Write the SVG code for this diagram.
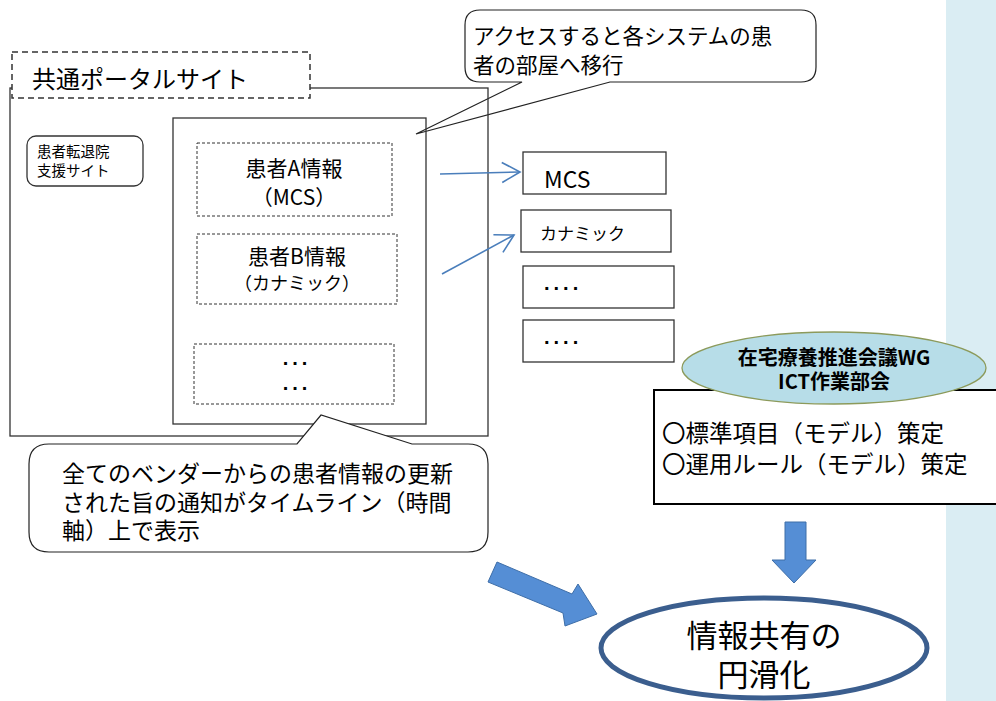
<svg xmlns="http://www.w3.org/2000/svg" width="996" height="701" viewBox="0 0 996 701">
<style>
  text { font-family: "Noto Sans CJK JP", "Noto Sans", sans-serif; fill: #000; }
  .box { fill: none; stroke: #333; stroke-width: 1.3; }
  .wbox { fill: #fff; stroke: #333; stroke-width: 1.3; }
  .dash { fill: #fff; stroke: #333; stroke-width: 1; stroke-dasharray: 3 2; }
  .callout { fill: #fff; stroke: #222; stroke-width: 1.2; }
  .conn { stroke: #4a7ebb; stroke-width: 1.6; fill: none; }
  .block { fill: #558ed5; stroke: #3e6ea8; stroke-width: 1; }
  .mid { text-anchor: middle; }
  .dots { font-family: "Liberation Sans", sans-serif; font-size: 20px; font-weight: bold; letter-spacing: 4px; }
</style>
<defs>
  <marker id="open" markerUnits="userSpaceOnUse" markerWidth="22" markerHeight="24" refX="19" refY="11" orient="auto" viewBox="0 0 22 24">
    <path d="M1,1 L19,11 L1,21" fill="none" stroke="#4a7ebb" stroke-width="1.6"/>
  </marker>
</defs>
<rect width="996" height="701" fill="#fff"/>
<rect id="strip" x="946" y="0" width="50" height="701" fill="#daedf3"/>

<g id="callout-top">
  <path class="callout" d="M480,10 H801 Q816,10 816,25 V67 Q816,82 801,82 H610 L416,134 L522,82 H480 Q465,82 465,67 V25 Q465,10 480,10 Z"/>
  <text x="473" y="44" font-size="21.5">アクセスすると各システムの患</text>
  <text x="473" y="73" font-size="21.5">者の部屋へ移行</text>
</g>

<g id="portal">
  <rect class="box" x="10" y="88" width="478" height="348"/>
  <rect x="12" y="52" width="298" height="46" fill="#fff" stroke="#333" stroke-width="1.5" stroke-dasharray="6 4"/>
  <text x="32" y="88" font-size="24">共通ポータルサイト</text>
</g>

<g id="support-site">
  <rect class="wbox" x="27" y="136" width="116" height="50" rx="9"/>
  <text x="37" y="157" font-size="14.5">患者転退院</text>
  <text x="37" y="176" font-size="14.5">支援サイト</text>
</g>

<g id="timeline">
  <rect class="box" x="173" y="118" width="253" height="306"/>
</g>

<g id="patient-a">
  <rect class="dash" x="197" y="143" width="195" height="73"/>
  <text class="mid" x="294" y="176" font-size="21">患者A情報</text>
  <text class="mid" x="294" y="205" font-size="21">（MCS）</text>
</g>

<g id="patient-b">
  <rect class="dash" x="197" y="234" width="200" height="70"/>
  <text class="mid" x="297" y="264" font-size="21">患者B情報</text>
  <text class="mid" x="297" y="290" font-size="18">（カナミック）</text>
</g>

<g id="patient-more">
  <rect class="dash" x="194" y="344" width="200" height="60"/>
  <text class="mid dots" x="297" y="365">...</text>
  <text class="mid dots" x="297" y="390">...</text>
</g>

<g id="sys-mcs">
  <rect class="wbox" x="523" y="152" width="143" height="42"/>
  <text x="544" y="188" font-size="23" font-family="Liberation Sans, sans-serif">MCS</text>
</g>
<g id="sys-kanamic">
  <rect class="wbox" x="521" y="210" width="150" height="42"/>
  <text x="540" y="240" font-size="17">カナミック</text>
</g>
<g id="sys-3">
  <rect class="wbox" x="523" y="266" width="151" height="42"/>
  <text class="dots" x="544" y="290">....</text>
</g>
<g id="sys-4">
  <rect class="wbox" x="523" y="320" width="151" height="42"/>
  <text class="dots" x="544" y="344">....</text>
</g>

<g id="callout-bottom">
  <path class="callout" d="M49,444 H297 L321,415 L412,444 H468 Q488,444 488,464 V532 Q488,552 468,552 H49 Q29,552 29,532 V464 Q29,444 49,444 Z"/>
  <text x="62" y="482" font-size="23">全てのベンダーからの患者情報の更新</text>
  <text x="62" y="511" font-size="23">された旨の通知がタイムライン（時間</text>
  <text x="62" y="539" font-size="23">軸）上で表示</text>
</g>

<g id="ict-box">
  <rect x="654" y="390" width="350" height="114" fill="#fff" stroke="#000" stroke-width="2"/>
  <text x="662" y="442" font-size="23.5">〇標準項目（モデル）策定</text>
  <text x="662" y="473" font-size="23.5">〇運用ルール（モデル）策定</text>
</g>

<g id="wg">
  <ellipse cx="834" cy="368" rx="152" ry="36" fill="#b7dde8" stroke="#8c9a5b" stroke-width="1.3"/>
  <text class="mid" x="834" y="365" font-size="20" font-weight="bold">在宅療養推進会議WG</text>
  <text class="mid" x="834" y="389" font-size="20" font-weight="bold">ICT作業部会</text>
</g>

<g id="goal">
  <ellipse cx="764" cy="648" rx="163" ry="50" fill="#fff" stroke="#3b5e8e" stroke-width="5"/>
  <text class="mid" x="764" y="647" font-size="31">情報共有の</text>
  <text class="mid" x="764" y="686" font-size="31">円滑化</text>
</g>

<g id="connectors">
  <line class="conn" x1="440" y1="174" x2="520" y2="172" marker-end="url(#open)"/>
  <line class="conn" x1="442" y1="274" x2="514" y2="235" marker-end="url(#open)"/>
  <polygon class="block" points="785,522 806,522 806,560 816,560 794,583 772,560 785,560"/>
  <polygon class="block" points="497,562 572,594 578,584 597,614 565,626 563,613 488,582"/>
</g>
</svg>
